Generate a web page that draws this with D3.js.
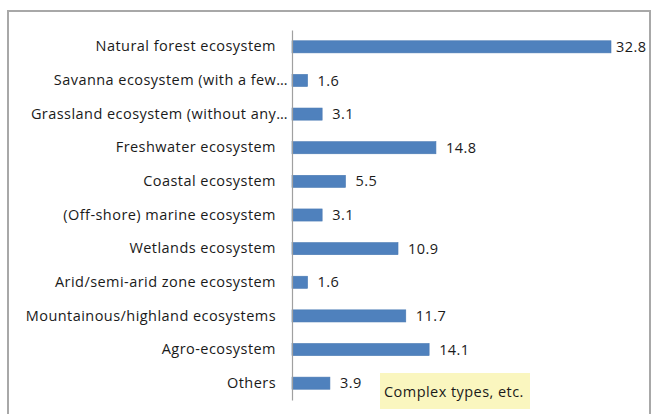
<!DOCTYPE html>
<html>
<head>
<meta charset="utf-8">
<script src="https://cdn.jsdelivr.net/npm/d3@7"></script>
<style>
  html, body { margin: 0; padding: 0; background: #fff; }
  svg { display: block; }
  text { font-family: "Open Sans", Lato, sans-serif; fill: #1a1a1a; letter-spacing: 0.45px; }
</style>
</head>
<body>
<svg id="chart" width="652" height="414"></svg>
<script>
// Ecosystem categories, top to bottom
const categories = [
  "Natural forest ecosystem",
  "Savanna ecosystem (with a few…",
  "Grassland ecosystem (without any…",
  "Freshwater ecosystem",
  "Coastal ecosystem",
  "(Off-shore) marine ecosystem",
  "Wetlands ecosystem",
  "Arid/semi-arid zone ecosystem",
  "Mountainous/highland ecosystems",
  "Agro-ecosystem",
  "Others"
];
// Share of responses (%)
const values = [32.8, 1.6, 3.1, 14.8, 5.5, 3.1, 10.9, 1.6, 11.7, 14.1, 3.9];
const valueLabels = ["32.8", "1.6", "3.1", "14.8", "5.5", "3.1", "10.9", "1.6", "11.7", "14.1", "3.9"];
const noteText = "Complex types, etc.";

const W = 652, H = 414;
const FS = 14.5;
const svg = d3.select("#chart");

// outer chart frame
svg.append("rect")
  .attr("x", 8).attr("y", 11)
  .attr("width", 642).attr("height", 430)
  .attr("fill", "#fff")
  .attr("stroke", "#a8a8a8")
  .attr("stroke-width", 2);

const data = categories.map((c, i) => ({ cat: c, v: values[i], label: valueLabels[i] }));

const x = d3.scaleLinear().domain([0, d3.max(values)]).range([292, 611]);
const y = d3.scaleBand().domain(categories).range([30, 400])
  .paddingInner(0.64).paddingOuter(0.32);

// bars
svg.append("g").selectAll("rect").data(data).join("rect")
  .attr("x", x(0))
  .attr("y", d => y(d.cat))
  .attr("width", d => x(d.v) - x(0))
  .attr("height", y.bandwidth())
  .attr("fill", "#4f81bd")
  .attr("stroke", "#4a7ab3")
  .attr("stroke-width", 0.6);

// category axis
const axis = svg.append("g")
  .attr("transform", `translate(${x(0)},0)`)
  .call(d3.axisLeft(y).tickSizeInner(0).tickSizeOuter(0).tickPadding(16));
axis.select(".domain").attr("stroke", "#a0a0a0").attr("stroke-width", 1.2);
axis.selectAll(".tick text")
  .attr("font-family", "'Open Sans', Lato, sans-serif")
  .attr("font-size", FS)
  .attr("fill", "#1a1a1a")
  .attr("x", d => d.endsWith("…") ? -4 : -16);

// value labels
svg.append("g").selectAll("text").data(data).join("text")
  .attr("x", d => Math.min(x(d.v) + 10, W - 36))
  .attr("y", d => y(d.cat) + y.bandwidth() / 2)
  .attr("dy", "0.35em")
  .attr("font-size", FS)
  .text(d => d.label);

// note box beside the "Others" bar
const note = svg.append("g").attr("transform", "translate(380,373)");
note.append("rect")
  .attr("width", 150).attr("height", 36)
  .attr("fill", "#faf6bf");
note.append("text")
  .attr("x", 4).attr("y", 24)
  .attr("font-size", FS)
  .text(noteText);
</script>
</body>
</html>
